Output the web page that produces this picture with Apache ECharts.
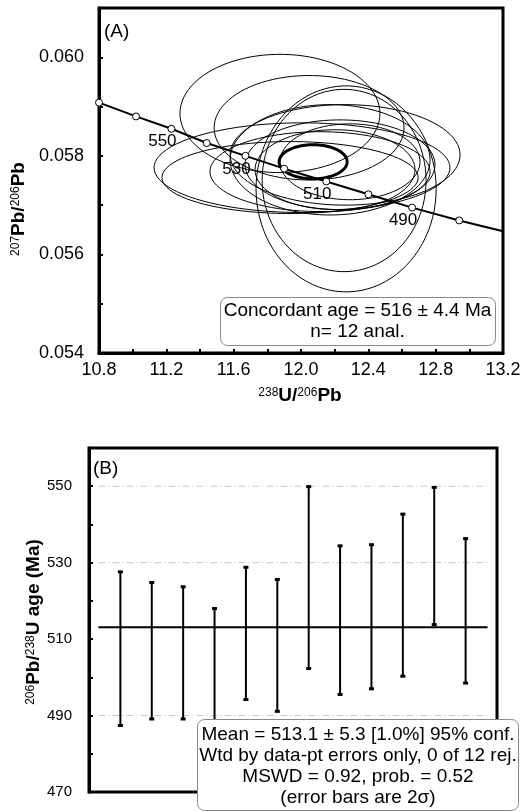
<!DOCTYPE html>
<html>
<head>
<meta charset="utf-8">
<script src="https://cdn.jsdelivr.net/npm/echarts@6/dist/echarts.min.js"></script>
<style>
html,body{margin:0;padding:0;background:#fff;}
#chart{width:531px;height:812px;}
</style>
</head>
<body>
<div id="chart"></div>
<script>
// ---------- Panel A data ----------
// Concordia curve points (238U/206Pb, 207Pb/206Pb) and their ages (Ma)
const concX = [10.80, 11.02, 11.23, 11.44, 11.67, 11.90, 12.15, 12.40, 12.66, 12.94];
const concY = [0.05908, 0.05880, 0.05855, 0.05826, 0.05800, 0.05774, 0.05748, 0.05722, 0.05695, 0.05669];
const concAge = [570, 560, 550, 540, 530, 520, 510, 500, 490, 480];
const concLabelled = [550, 530, 510, 490];
const concEnd = [13.2, 0.05647];

// Analysis error ellipses: centre x, centre y, half-width x, half-height y
const ellCx = [11.875, 12.048, 12.268, 12.256, 12.006, 11.935, 12.173, 12.232, 12.202, 12.262, 12.113, 12.291];
const ellCy = [0.05886, 0.05857, 0.05733, 0.05750, 0.05776, 0.05756, 0.05792, 0.05782, 0.05772, 0.05802, 0.05768, 0.05788];
const ellRx = [0.594, 0.564, 0.535, 0.487, 0.879, 0.761, 0.594, 0.564, 0.475, 0.683, 0.654, 0.416];
const ellRy = [0.00120, 0.00106, 0.00209, 0.00185, 0.00091, 0.00073, 0.00112, 0.00091, 0.00081, 0.00102, 0.00081, 0.00077];

// Concordant age ellipse
const concordCx = 12.072, concordCy = 0.05788, concordRx = 0.202, concordRy = 0.000345;

const xTicksA = [10.8, 11.2, 11.6, 12.0, 12.4, 12.8, 13.2];
const yTicksA = [0.054, 0.056, 0.058, 0.060];

// ---------- Panel B data ----------
const analysis = [1,2,3,4,5,6,7,8,9,10,11,12];
const barHigh = [527.6, 524.8, 523.7, 518.0, 528.8, 525.6, 549.9, 534.4, 534.7, 542.7, 549.7, 536.3];
const barLow  = [487.4, 489.1, 489.1, 483.0, 494.2, 491.1, 502.3, 495.5, 497.0, 500.3, 513.8, 498.5];
const meanAge = 513.1;
const gridAges = [550, 530, 490];
const yTicksB = [470, 490, 510, 530, 550];

// ---------- build ----------
const FONT = '"Liberation Sans", Arial, sans-serif';
const ellData = ellCx.map((c, i) => [c, ellCy[i], ellRx[i], ellRy[i], 1]);
ellData.push([concordCx, concordCy, concordRx, concordRy, 3]);

const concData = concX.map((x, i) => {
  const item = { value: [x, concY[i]] };
  if (concLabelled.indexOf(concAge[i]) >= 0) {
    item.label = { show: true, formatter: String(concAge[i]) };
  }
  return item;
});
concData.push({ value: concEnd, symbol: 'none' });

function ellipseRender(params, api) {
  const cx = api.value(0), cy = api.value(1), rx = api.value(2), ry = api.value(3), lw = api.value(4);
  const pts = [];
  const N = 90;
  for (let k = 0; k < N; k++) {
    const t = k / N * Math.PI * 2;
    pts.push(api.coord([cx + rx * Math.cos(t), cy + ry * Math.sin(t)]));
  }
  return { type: 'polygon', shape: { points: pts }, style: { fill: 'none', stroke: '#000', lineWidth: lw } };
}

function barRender(params, api) {
  const x = api.value(0), lo = api.value(1), hi = api.value(2);
  const p1 = api.coord([x, lo]), p2 = api.coord([x, hi]);
  return {
    type: 'group',
    children: [
      { type: 'line', shape: { x1: p1[0], y1: p1[1], x2: p2[0], y2: p2[1] }, style: { stroke: '#000', lineWidth: 2 } },
      { type: 'line', shape: { x1: p1[0] - 2.5, y1: p1[1], x2: p1[0] + 2.5, y2: p1[1] }, style: { stroke: '#000', lineWidth: 3 } },
      { type: 'line', shape: { x1: p2[0] - 2.5, y1: p2[1], x2: p2[0] + 2.5, y2: p2[1] }, style: { stroke: '#000', lineWidth: 3 } }
    ]
  };
}

const barData = analysis.map((a, i) => [a, barLow[i], barHigh[i]]);

const supStyle = { fontSize: 12, fontFamily: FONT, fontWeight: 'normal', verticalAlign: 'top', padding: [0, 0, 6, 0] };
const bigStyle = { fontSize: 19, fontFamily: FONT, fontWeight: 'bold' };

const option = {
  animation: false,
  backgroundColor: '#fff',
  grid: [
    { left: 99, top: 8, right: 28, bottom: 459, show: true, borderColor: '#000', borderWidth: 3, backgroundColor: 'transparent' },
    { left: 89, top: 448, right: 34, bottom: 20, show: true, borderColor: '#000', borderWidth: 3, backgroundColor: 'transparent' }
  ],
  xAxis: [
    {
      gridIndex: 0, type: 'value', min: 10.8, max: 13.2, interval: 0.2,
      axisLine: { show: true, lineStyle: { color: '#000', width: 3 } },
      axisTick: { show: true, inside: true, length: 4, lineStyle: { color: '#000', width: 2 } },
      splitLine: { show: false },
      axisLabel: {
        color: '#000', fontSize: 18, fontFamily: FONT, margin: 8,
        formatter: v => {
          const m = xTicksA.find(t => Math.abs(t - v) < 1e-6);
          return m !== undefined ? m.toFixed(1) : '';
        }
      }
    },
    { gridIndex: 1, type: 'value', min: 0, max: 13, show: false }
  ],
  yAxis: [
    {
      gridIndex: 0, type: 'value', min: 0.054, max: 0.061, interval: 0.001,
      axisLine: { show: true, lineStyle: { color: '#000', width: 3 } },
      axisTick: { show: true, inside: true, length: 4, lineStyle: { color: '#000', width: 2 } },
      splitLine: { show: false },
      axisLabel: {
        color: '#000', fontSize: 18, fontFamily: FONT, margin: 15,
        formatter: v => {
          const m = yTicksA.find(t => Math.abs(t - v) < 1e-7);
          return m !== undefined ? m.toFixed(3) : '';
        }
      }
    },
    {
      gridIndex: 1, type: 'value', min: 470, max: 560, interval: 10,
      axisLine: { show: true, lineStyle: { color: '#000', width: 3 } },
      axisTick: { show: true, inside: true, length: 4, lineStyle: { color: '#000', width: 2 } },
      splitLine: { show: false },
      axisLabel: {
        color: '#000', fontSize: 15, fontFamily: FONT, margin: 17,
        formatter: v => (yTicksB.indexOf(Math.round(v)) >= 0 ? String(Math.round(v)) : '')
      }
    }
  ],
  series: [
    {
      type: 'custom', xAxisIndex: 0, yAxisIndex: 0, renderItem: ellipseRender,
      data: ellData, clip: true, silent: true, z: 2
    },
    {
      type: 'line', xAxisIndex: 0, yAxisIndex: 0, data: concData,
      lineStyle: { color: '#000', width: 2 },
      symbol: 'circle', symbolSize: 7,
      itemStyle: { color: '#fff', borderColor: '#000', borderWidth: 1 },
      label: { show: false, position: 'inside', offset: [-9, 13], color: '#000', fontSize: 17, fontFamily: FONT },
      z: 3
    },
    {
      type: 'custom', xAxisIndex: 1, yAxisIndex: 1, renderItem: barRender, data: barData, z: 3
    },
    {
      type: 'line', xAxisIndex: 1, yAxisIndex: 1,
      data: [[0.3, meanAge], [12.7, meanAge]], symbol: 'none',
      lineStyle: { color: '#000', width: 2 }, z: 4
    }
  ].concat(gridAges.map(g => ({
    type: 'line', xAxisIndex: 1, yAxisIndex: 1,
    data: [[0.3, g], [12.7, g]], symbol: 'none',
    lineStyle: { color: '#c8c8c8', width: 1, type: [7, 3, 1, 3] }, z: 1
  }))),
  graphic: [
    { type: 'text', left: 104, top: 22, z: 50, style: { text: '(A)', font: '19px ' + FONT, fill: '#000' } },
    { type: 'text', left: 93, top: 459, z: 50, style: { text: '(B)', font: '19px ' + FONT, fill: '#000' } },
    { type: 'rect', z: 50, shape: { x: 220.5, y: 297.5, width: 275, height: 48, r: 7 }, style: { fill: '#fff', stroke: '#888', lineWidth: 1 } },
    { type: 'text', z: 51, x: 357.5, y: 321.5, style: { text: 'Concordant age = 516 ± 4.4 Ma\nn= 12 anal.', font: '19px ' + FONT, fill: '#000', align: 'center', verticalAlign: 'middle', lineHeight: 21 } },
    { type: 'rect', z: 50, shape: { x: 197.5, y: 719.5, width: 321, height: 91, r: 7 }, style: { fill: '#fff', stroke: '#888', lineWidth: 1 } },
    { type: 'text', z: 51, x: 358, y: 766, style: { text: 'Mean = 513.1 ± 5.3 [1.0%] 95% conf.\nWtd by data-pt errors only, 0 of 12 rej.\nMSWD = 0.92, prob. = 0.52\n(error bars are 2σ)', font: '19px ' + FONT, fill: '#000', align: 'center', verticalAlign: 'middle', lineHeight: 21 } },
    {
      type: 'text', x: 19, y: 209, rotation: Math.PI / 2, z: 50,
      style: { text: '{s|207}{b|Pb/}{s|206}{b|Pb}', align: 'center', verticalAlign: 'middle', rich: { s: supStyle, b: bigStyle } }
    },
    {
      type: 'text', x: 300, y: 396, z: 50,
      style: { text: '{s|238}{b|U/}{s|206}{b|Pb}', align: 'center', verticalAlign: 'middle', rich: { s: supStyle, b: bigStyle } }
    },
    {
      type: 'text', x: 34, y: 622, rotation: Math.PI / 2, z: 50,
      style: { text: '{s|206}{b|Pb/}{s|238}{b|U age (Ma)}', align: 'center', verticalAlign: 'middle', rich: { s: supStyle, b: bigStyle } }
    }
  ]
};

const chart = echarts.init(document.getElementById('chart'), null, { renderer: 'canvas' });
chart.setOption(option);
</script>
</body>
</html>
